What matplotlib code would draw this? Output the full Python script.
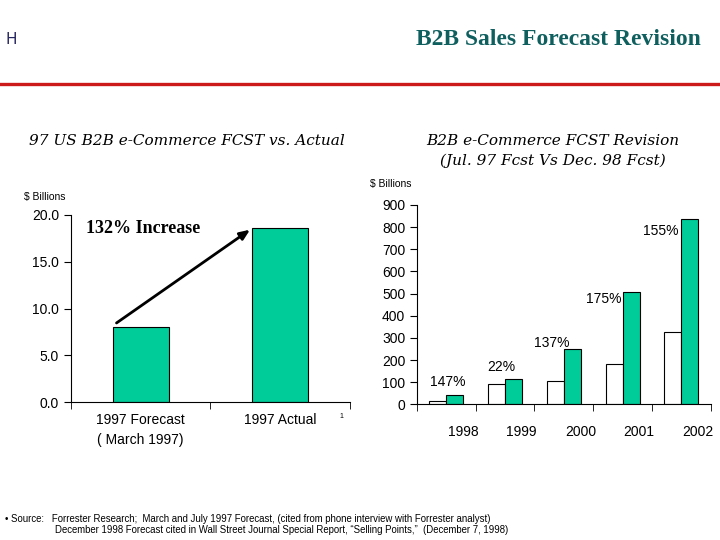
import matplotlib
matplotlib.use("Agg")
import matplotlib.pyplot as plt
import numpy as np

# left chart: 1997 forecast vs actual ($ billions)
left_cats = ["1997 Forecast\n( March 1997)", "1997 Actual"]
left_vals = [8.0, 18.6]

# right chart: Jul 97 forecast vs Dec 98 forecast ($ billions)
years = ["1998", "1999", "2000", "2001", "2002"]
jul97 = [17, 93, 105, 184, 327]
dec98 = [41, 113, 249, 506, 835]
pct_labels = ["147%", "22%", "137%", "175%", "155%"]

GREEN = "#00CC99"
TEAL = "#0F5F5F"
SANS = ["Liberation Sans", "DejaVu Sans"]


def main():
    fig = plt.figure(figsize=(7.2, 5.4), dpi=100)

    # header
    fig.text(0.008, 0.926, "H", fontsize=11, color="#262660",
             family="DejaVu Sans", va="center")
    fig.text(0.973, 0.926, "B2B Sales Forecast Revision", fontsize=17,
             color=TEAL, family="Liberation Serif", fontweight="bold",
             ha="right", va="center")
    fig.add_artist(plt.Line2D([0, 1], [0.844, 0.844], color="#CC1A1A", lw=2.4))

    # ---- left chart
    ax1 = fig.add_axes([0.0986, 0.255, 0.3875, 0.3469])
    x1 = np.arange(len(left_vals))
    ax1.bar(x1, left_vals, width=0.4, color=GREEN, edgecolor="black", lw=0.8)
    ax1.set_xlim(-0.5, 1.5)
    ax1.set_ylim(0, 20)
    ax1.set_yticks([0, 5, 10, 15, 20])
    ax1.set_yticklabels(["%.1f" % v for v in [0, 5, 10, 15, 20]])
    ax1.set_xticks(x1)
    ax1.set_xticklabels(left_cats, linespacing=1.5)
    ax1.set_xticks([-0.5, 0.5, 1.5], minor=True)
    ax1.tick_params(axis="x", which="major", length=0, pad=8, labelsize=10)
    ax1.tick_params(axis="x", which="minor", length=5)
    ax1.tick_params(axis="y", length=5, labelsize=10)
    ax1.annotate("", xy=(0.8, left_vals[1]), xytext=(-0.19, left_vals[0] + 0.3),
                 arrowprops=dict(arrowstyle="-|>,head_length=0.6,head_width=0.25",
                                 color="black", lw=2.0))
    ax1.text(-0.39, 18.6, "132% Increase", fontsize=13, fontweight="bold",
             family="Liberation Serif", va="center")
    fig.text(0.034, 0.635, "$ Billions", fontsize=7.5, family=SANS, va="center")
    fig.text(0.26, 0.739, "97 US B2B e-Commerce FCST vs. Actual", fontsize=11,
             family="DejaVu Serif", style="italic", ha="center", va="center")
    fig.text(0.471, 0.228, "1", fontsize=5, family=SANS, va="center")

    # ---- right chart
    ax2 = fig.add_axes([0.5792, 0.2513, 0.4079, 0.3691])
    x2 = np.arange(len(years))
    ax2.bar(x2 - 0.145, jul97, width=0.29, color="white", edgecolor="black", lw=0.8)
    ax2.bar(x2 + 0.145, dec98, width=0.29, color=GREEN, edgecolor="black", lw=0.8)
    ax2.set_xlim(-0.5, 4.5)
    ax2.set_ylim(0, 900)
    ax2.set_yticks(range(0, 901, 100))
    ax2.set_xticks(x2 + 0.28)
    ax2.set_xticklabels(years)
    ax2.set_xticks(np.arange(-0.5, 4.6, 1), minor=True)
    ax2.tick_params(axis="x", which="major", length=0, pad=15, labelsize=10)
    ax2.tick_params(axis="x", which="minor", length=5)
    ax2.tick_params(axis="y", length=5, labelsize=10)
    label_dx = [0.02, -0.07, -0.2, -0.32, -0.35]
    label_y = [100, 168, 277, 476, 783]
    for i, lab in enumerate(pct_labels):
        ax2.text(x2[i] + label_dx[i], label_y[i], lab, fontsize=10,
                 family=SANS, ha="center", va="center")
    fig.text(0.514, 0.659, "$ Billions", fontsize=7.5, family=SANS, va="center")
    fig.text(0.768, 0.739, "B2B e-Commerce FCST Revision", fontsize=11,
             family="DejaVu Serif", style="italic", ha="center", va="center")
    fig.text(0.768, 0.702, "(Jul. 97 Fcst Vs Dec. 98 Fcst)", fontsize=11,
             family="DejaVu Serif", style="italic", ha="center", va="center")

    for ax in (ax1, ax2):
        ax.spines["top"].set_visible(False)
        ax.spines["right"].set_visible(False)
        for lab in ax.get_xticklabels() + ax.get_yticklabels():
            lab.set_family(SANS)

    # footnote
    fig.text(0.007, 0.039,
             "\u2022 Source:   Forrester Research;  March and July 1997 Forecast, "
             "(cited from phone interview with Forrester analyst)",
             fontsize=6.9, family=SANS, va="center")
    fig.text(0.077, 0.019,
             "December 1998 Forecast cited in Wall Street Journal Special Report, "
             "\u201cSelling Points,\u201d  (December 7, 1998)",
             fontsize=6.9, family=SANS, va="center")

    fig.savefig("out.png", dpi=100)


if __name__ == "__main__":
    main()
